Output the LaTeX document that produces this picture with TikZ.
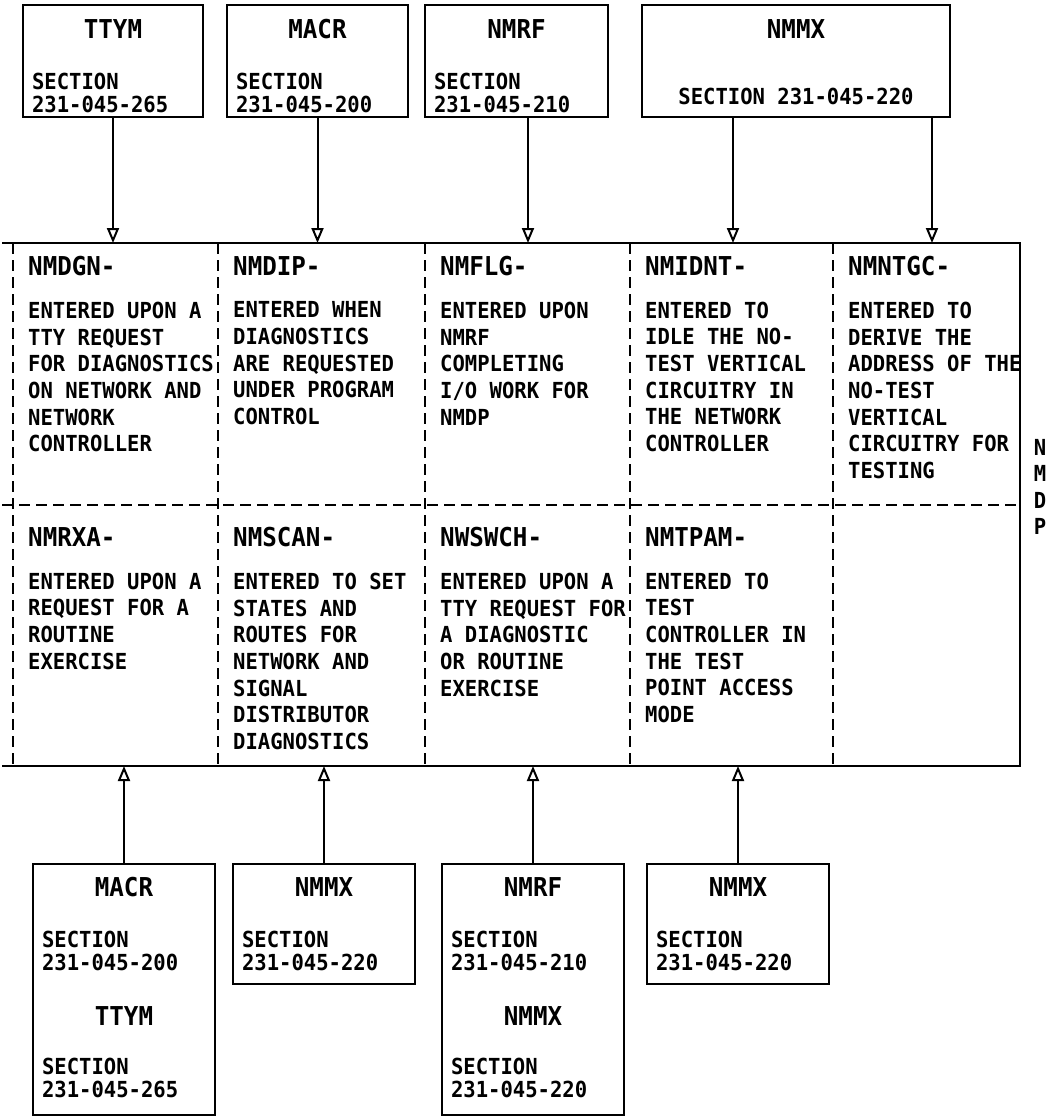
\documentclass[tikz,border=0pt]{standalone}
\usepackage{fontspec}
\newfontfamily\plotfont{DejaVu Sans Mono Bold}[FakeStretch=0.93]
\usetikzlibrary{arrows.meta, positioning}

\begin{document}
\begin{tikzpicture}[
    x=1pt, y=-1pt,
    srcbox/.style={rectangle, draw=black, line width=2.3pt, minimum height=112pt, inner sep=0pt},
    boxtitle/.style={inner sep=0pt, font=\plotfont\fontsize{26}{28}\selectfont},
    boxtext/.style={inner sep=0pt, align=left, font=\plotfont\fontsize{22.1}{23.5}\selectfont},
    cellhead/.style={inner sep=0pt, anchor=west, font=\plotfont\fontsize{26}{28}\selectfont},
    celltext/.style={inner sep=0pt, align=left, font=\plotfont\fontsize{22.1}{26.6}\selectfont},
    nmdpline/.style={line width=2.3pt, line join=miter},
    divider/.style={line width=1.8pt, dash pattern=on 11pt off 6pt},
    feed/.style={line width=2pt, -{Triangle[open, length=15pt, width=12pt]}}
]
\useasboundingbox (0,0) rectangle (1054,1117);

% Source modules above
\node[srcbox, minimum width=180pt] (ttym) at (113,61) {};
\node[boxtitle, below=15pt of ttym.north] {TTYM};
\node[boxtext, below right=69pt and 10pt of ttym.north west] {SECTION\\231-045-265};

\node[srcbox, minimum width=181pt] (macr) at (317.5,61) {};
\node[boxtitle, below=15pt of macr.north] {MACR};
\node[boxtext, below right=69pt and 10pt of macr.north west] {SECTION\\231-045-200};

\node[srcbox, minimum width=183pt] (nmrf) at (516.5,61) {};
\node[boxtitle, below=15pt of nmrf.north] {NMRF};
\node[boxtext, below right=69pt and 10pt of nmrf.north west] {SECTION\\231-045-210};

\node[srcbox, minimum width=308pt] (nmmx) at (796,61) {};
\node[boxtitle, below=15pt of nmmx.north] {NMMX};
\node[boxtext, below=84pt of nmmx.north] {SECTION 231-045-220};

% NMDP frame
\coordinate (nmdp-nw) at (2,243);
\coordinate (nmdp-ne) at (1020,243);
\coordinate (nmdp-se) at (1020,766);
\coordinate (nmdp-sw) at (2,766);
\draw[nmdpline] (nmdp-nw) -- (nmdp-ne) -- (nmdp-se) -- (nmdp-sw);
\foreach \x in {13,218,425,630,833}
    \draw[divider] (\x,243) -- (\x,766);
\draw[divider] (2,505) -- (1020,505);
\node[celltext] (nmdplabel) at (1040,487) {N\\M\\D\\P};

% Upper row of entry points
\node[cellhead] (dgn) at (28,266) {NMDGN-};
\node[celltext, below right=26pt and 0pt of dgn.south west] {ENTERED UPON A\\TTY REQUEST\\FOR DIAGNOSTICS\\ON NETWORK AND\\NETWORK\\CONTROLLER};

\node[cellhead] (dip) at (233,266) {NMDIP-};
\node[celltext, below right=26pt and 0pt of dip.south west] {ENTERED WHEN\\DIAGNOSTICS\\ARE REQUESTED\\UNDER PROGRAM\\CONTROL};

\node[cellhead] (flg) at (440,266) {NMFLG-};
\node[celltext, below right=26pt and 0pt of flg.south west] {ENTERED UPON\\NMRF\\COMPLETING\\I/O WORK FOR\\NMDP};

\node[cellhead] (idnt) at (645,266) {NMIDNT-};
\node[celltext, below right=26pt and 0pt of idnt.south west] {ENTERED TO\\IDLE THE NO-\\TEST VERTICAL\\CIRCUITRY IN\\THE NETWORK\\CONTROLLER};

\node[cellhead] (ntgc) at (848,266) {NMNTGC-};
\node[celltext, below right=26pt and 0pt of ntgc.south west] {ENTERED TO\\DERIVE THE\\ADDRESS OF THE\\NO-TEST\\VERTICAL\\CIRCUITRY FOR\\TESTING};

% Lower row of entry points
\node[cellhead] (rxa) at (28,537) {NMRXA-};
\node[celltext, below right=26pt and 0pt of rxa.south west] {ENTERED UPON A\\REQUEST FOR A\\ROUTINE\\EXERCISE};

\node[cellhead] (scan) at (233,537) {NMSCAN-};
\node[celltext, below right=26pt and 0pt of scan.south west] {ENTERED TO SET\\STATES AND\\ROUTES FOR\\NETWORK AND\\SIGNAL\\DISTRIBUTOR\\DIAGNOSTICS};

\node[cellhead] (swch) at (440,537) {NWSWCH-};
\node[celltext, below right=26pt and 0pt of swch.south west] {ENTERED UPON A\\TTY REQUEST FOR\\A DIAGNOSTIC\\OR ROUTINE\\EXERCISE};

\node[cellhead] (tpam) at (645,537) {NMTPAM-};
\node[celltext, below right=26pt and 0pt of tpam.south west] {ENTERED TO\\TEST\\CONTROLLER IN\\THE TEST\\POINT ACCESS\\MODE};

% Source modules below
\node[srcbox, minimum width=182pt, minimum height=251pt] (srcrxa) at (124,989.5) {};
\node[boxtitle, below=14pt of srcrxa.north] {MACR};
\node[boxtext, below right=68pt and 10pt of srcrxa.north west] {SECTION\\231-045-200};
\node[boxtitle, below=143pt of srcrxa.north] {TTYM};
\node[boxtext, below right=195pt and 10pt of srcrxa.north west] {SECTION\\231-045-265};

\node[srcbox, minimum width=182pt, minimum height=120pt] (srcscan) at (324,924) {};
\node[boxtitle, below=14pt of srcscan.north] {NMMX};
\node[boxtext, below right=68pt and 10pt of srcscan.north west] {SECTION\\231-045-220};

\node[srcbox, minimum width=182pt, minimum height=251pt] (srcswch) at (533,989.5) {};
\node[boxtitle, below=14pt of srcswch.north] {NMRF};
\node[boxtext, below right=68pt and 10pt of srcswch.north west] {SECTION\\231-045-210};
\node[boxtitle, below=143pt of srcswch.north] {NMMX};
\node[boxtext, below right=195pt and 10pt of srcswch.north west] {SECTION\\231-045-220};

\node[srcbox, minimum width=182pt, minimum height=120pt] (srctpam) at (738,924) {};
\node[boxtitle, below=14pt of srctpam.north] {NMMX};
\node[boxtext, below right=68pt and 10pt of srctpam.north west] {SECTION\\231-045-220};

% Calls into NMDP
\coordinate (flg-in) at (528,243);
\coordinate (idnt-in) at (733,243);
\coordinate (ntgc-in) at (932,243);
\draw[feed] (ttym) -- (ttym |- nmdp-nw);
\draw[feed] (macr) -- (macr |- nmdp-nw);
\draw[feed] (flg-in |- nmrf.south) -- (flg-in);
\draw[feed] (idnt-in |- nmmx.south) -- (idnt-in);
\draw[feed] (ntgc-in |- nmmx.south) -- (ntgc-in);

\draw[feed] (srcrxa) -- (srcrxa |- nmdp-sw);
\draw[feed] (srcscan) -- (srcscan |- nmdp-sw);
\draw[feed] (srcswch) -- (srcswch |- nmdp-sw);
\draw[feed] (srctpam) -- (srctpam |- nmdp-sw);

\end{tikzpicture}
\end{document}
